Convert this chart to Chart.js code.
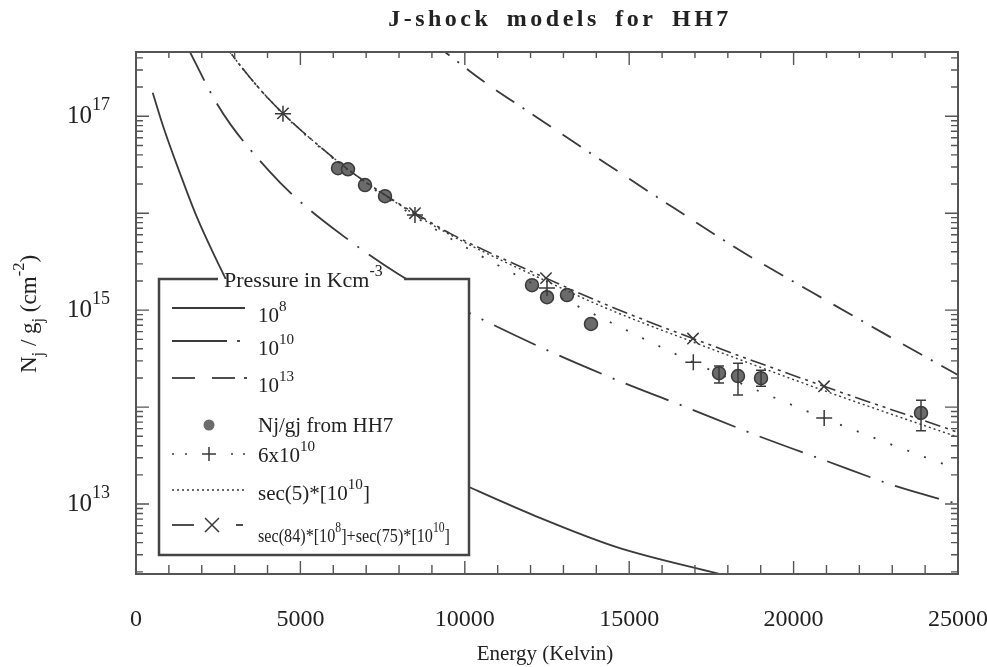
<!DOCTYPE html>
<html>
<head>
<meta charset="utf-8">
<title>J-shock models for HH7</title>
<script src="https://cdn.jsdelivr.net/npm/chart.js@4.4.1/dist/chart.umd.min.js"></script>
<style>
	html, body { margin: 0; padding: 0; background: #fff; }
</style>
</head>
<body>
<canvas id="chart" width="987" height="667"></canvas>
<script>
// ================ Data ================
// pressure 10^8 Kcm-3, solid
const energy8 = [508, 830, 1338, 1846, 2403, 3500, 5000, 6500, 8000, 10128, 12083, 14620, 17862, 18600];
const column8 = [1.75e17, 7.8e16, 2.58e16, 9.2e15, 3.55e15, 6.6e14, 1.41e14, 6.0e13, 3.2e13, 1.5e13, 7.7e12, 3.6e12, 1.86e12, 1.6e12];

// pressure 10^10, long dash + dot
const energy10 = [1450, 1642, 2372, 2889, 4045, 4805, 5991, 7938, 10158, 12500, 14629, 16788, 18887, 21016, 23114, 25000];
const column10 = [6.2e17, 4.6e17, 1.52e17, 8.1e16, 2.73e16, 1.5e16, 7.0e15, 2.4e15, 9.3e14, 3.87e14, 1.9e14, 9.8e13, 5.1e13, 2.77e13, 1.53e13, 1.0e13];

// pressure 10^13, dashes
const energy13 = [9000, 9398, 10523, 12105, 14234, 16363, 18461, 20560, 22689, 25000];
const column13 = [5.8e17, 4.6e17, 2.35e17, 1.02e17, 3.36e16, 1.13e16, 3.96e15, 1.53e15, 5.9e14, 2.14e14];

// 6x10^10, sparse dots + crosses
const energy6 = [2600, 2859, 3710, 4470, 5353, 6500, 7968, 9641, 11740, 13869, 16940, 20925, 24483, 25000];
const column6 = [6.2e17, 4.6e17, 2.0e17, 1.06e17, 5.6e16, 2.7e16, 1.2e16, 5.3e15, 2.14e15, 9.3e14, 2.91e14, 7.7e13, 2.65e13, 2.3e13];
const plusEnergy = [4470, 8485, 12500, 16950, 20930];
const plusColumn = [1.06e17, 9.6e15, 1.69e15, 2.9e14, 7.7e13];

// sec(5)*[10^10], fine dots
const energy5 = [2600, 2859, 3710, 4470, 5353, 6500, 7968, 9550, 12470, 14325, 16940, 20925, 25000];
const column5 = [6.2e17, 4.6e17, 2.0e17, 1.07e17, 5.7e16, 2.75e16, 1.25e16, 6.0e15, 2.0e15, 1.04e15, 4.7e14, 1.48e14, 4.9e13];

// sec(84)*[10^8]+sec(75)*[10^10], dash-dot + X
const energyComb = [2600, 2859, 3710, 4470, 5353, 6500, 7968, 8485, 9550, 12470, 14325, 16940, 20925, 25000];
const columnComb = [6.2e17, 4.6e17, 2.0e17, 1.07e17, 5.7e16, 2.75e16, 1.27e16, 1.0e16, 6.2e15, 2.14e15, 1.13e15, 5.1e14, 1.64e14, 5.5e13];
const crossEnergy = [4470, 8485, 12470, 16940, 20925];
const crossColumn = [1.07e17, 1.0e16, 2.14e15, 5.1e14, 1.64e14];

// Nj/gj from HH7
const obsEnergy = [6144, 6448, 6965, 7573, 12044, 12500, 13108, 13838, 17731, 18309, 19009, 23875];
const obsColumn = [2.91e16, 2.84e16, 1.95e16, 1.5e16, 1.81e15, 1.36e15, 1.43e15, 7.2e14, 2.24e14, 2.09e14, 1.99e14, 8.7e13];
const obsLow = [null, null, null, null, null, null, null, null, 1.77e14, 1.33e14, 1.64e14, 5.7e13];
const obsHigh = [null, null, null, null, null, null, null, null, 2.65e14, 2.84e14, 2.4e14, 1.18e14];

// axes
const xTickLabels = ["0", "5000", "10000", "15000", "20000", "25000"];
const xTickValues = [0, 5000, 10000, 15000, 20000, 25000];
const yLabelExponents = [13, 15, 17];
const Y_MIN = 1.9e12;
const Y_MAX = 4.6e17;

const SERIF = '"Liberation Serif", "DejaVu Serif", serif';
const INK = "#3a3a3a";

// dash patterns
const DASH_10 = [46, 12, 2, 12];
const DASH_13 = [22, 10, 2, 10, 22, 14];
const DASH_6 = [2, 16];
const DASH_5 = [2, 3];
const DASH_COMB = [16, 5, 3, 5, 3, 5];

function pts(xs, ys) {
	return xs.map((x, i) => ({ x: x, y: ys[i] }));
}

function curve(data, dash, width) {
	return {
		data: data,
		borderColor: INK,
		borderWidth: width,
		borderDash: dash,
		pointRadius: 0,
		fill: false,
		cubicInterpolationMode: "monotone",
	};
}

function markers(data, style, radius, fillCol) {
	return {
		data: data,
		showLine: false,
		pointStyle: style,
		pointRadius: radius,
		pointBorderWidth: 1.5,
		borderColor: INK,
		backgroundColor: fillCol || INK,
	};
}

// draws text parts: [text, shift] shift 1 = superscript, -1 = subscript
function richText(ctx, parts, x, y, size, draw) {
	let cx = x;
	for (const [t, s] of parts) {
		const fs = s ? size * 0.72 : size;
		ctx.font = `${fs}px ${SERIF}`;
		const dy = s === 1 ? -size * 0.52 : s === -1 ? size * 0.3 : 0;
		if (draw !== false) ctx.fillText(t, cx, y + dy);
		cx += ctx.measureText(t).width;
	}
	return cx - x;
}

function sample(ctx, x0, x1, y, dash) {
	ctx.save();
	ctx.setLineDash(dash);
	ctx.beginPath();
	ctx.moveTo(x0, y);
	ctx.lineTo(x1, y);
	ctx.stroke();
	ctx.restore();
}

function plusMark(ctx, x, y, r) {
	ctx.beginPath();
	ctx.moveTo(x - r, y); ctx.lineTo(x + r, y);
	ctx.moveTo(x, y - r); ctx.lineTo(x, y + r);
	ctx.stroke();
}

function crossMark(ctx, x, y, r) {
	ctx.beginPath();
	ctx.moveTo(x - r, y - r); ctx.lineTo(x + r, y + r);
	ctx.moveTo(x - r, y + r); ctx.lineTo(x + r, y - r);
	ctx.stroke();
}

// ================ decorations plugin ================
const decor = {
	id: "decor",
	beforeDraw(chart) {
		const ctx = chart.ctx;
		ctx.save();
		ctx.fillStyle = "#fff";
		ctx.fillRect(0, 0, chart.width, chart.height);
		ctx.restore();
	},
	afterDatasetsDraw(chart) {
		const ctx = chart.ctx;
		const xs = chart.scales.x;
		const ys = chart.scales.y;
		const a = chart.chartArea;
		ctx.save();

		// error bars
		ctx.strokeStyle = INK;
		ctx.lineWidth = 1.5;
		obsEnergy.forEach((e, i) => {
			if (obsLow[i] == null) return;
			const px = xs.getPixelForValue(e);
			const lo = ys.getPixelForValue(obsLow[i]);
			const hi = ys.getPixelForValue(obsHigh[i]);
			ctx.beginPath();
			ctx.moveTo(px, lo); ctx.lineTo(px, hi);
			ctx.moveTo(px - 5, lo); ctx.lineTo(px + 5, lo);
			ctx.moveTo(px - 5, hi); ctx.lineTo(px + 5, hi);
			ctx.stroke();
		});

		// ---- legend box ----
		const L = 159, T = 279, R = 469, B = 555;
		ctx.fillStyle = "#fff";
		ctx.fillRect(L, T, R - L, B - T);
		ctx.strokeStyle = "#444";
		ctx.lineWidth = 2.5;
		ctx.beginPath();
		ctx.moveTo(218, T); ctx.lineTo(L, T); ctx.lineTo(L, B);
		ctx.lineTo(R, B); ctx.lineTo(R, T); ctx.lineTo(404, T);
		ctx.stroke();

		ctx.fillStyle = "#222";
		ctx.textBaseline = "alphabetic";
		ctx.textAlign = "left";
		richText(ctx, [["Pressure in Kcm", 0], ["-3", 1]], 224, 287, 22);

		ctx.strokeStyle = INK;
		ctx.lineWidth = 1.8;
		const tx = 258;
		// 10^8
		sample(ctx, 172, 245, 308, []);
		richText(ctx, [["10", 0], ["8", 1]], tx, 322, 21);
		// 10^10
		sample(ctx, 172, 227, 341, []);
		sample(ctx, 237, 240, 341, []);
		richText(ctx, [["10", 0], ["10", 1]], tx, 355, 21);
		// 10^13
		sample(ctx, 172, 195, 378, []);
		sample(ctx, 212, 235, 378, []);
		sample(ctx, 244, 247, 378, []);
		richText(ctx, [["10", 0], ["13", 1]], tx, 392, 21);
		// observations
		ctx.fillStyle = "#6b6b6b";
		ctx.beginPath();
		ctx.arc(209, 425, 5.5, 0, Math.PI * 2);
		ctx.fill();
		ctx.fillStyle = "#222";
		richText(ctx, [["Nj/gj from HH7", 0]], tx, 432, 21);
		// 6x10^10
		ctx.lineWidth = 1.5;
		sample(ctx, 172, 174, 454, []);
		sample(ctx, 185, 187, 454, []);
		sample(ctx, 231, 233, 454, []);
		sample(ctx, 243, 245, 454, []);
		plusMark(ctx, 209, 454, 7);
		richText(ctx, [["6x10", 0], ["10", 1]], tx, 462, 21);
		// sec(5)
		sample(ctx, 172, 244, 490, DASH_5);
		richText(ctx, [["sec(5)*[10", 0], ["10", 1], ["]", 0]], tx, 500, 21);
		// combination
		ctx.lineWidth = 1.8;
		sample(ctx, 172, 194, 525, []);
		sample(ctx, 236, 243, 525, []);
		ctx.lineWidth = 1.5;
		crossMark(ctx, 212, 525, 7);
		const combParts = [["sec(84)*[10", 0], ["8", 1], ["]+sec(75)*[10", 0], ["10", 1], ["]", 0]];
		const w = richText(ctx, combParts, 0, 0, 19, false);
		ctx.save();
		ctx.translate(tx, 542);
		ctx.scale(192 / w, 1);
		richText(ctx, combParts, 0, 0, 19);
		ctx.restore();

		// ---- frame and ticks ----
		ctx.strokeStyle = "#555";
		ctx.lineWidth = 2;
		ctx.strokeRect(a.left, a.top, a.right - a.left, a.bottom - a.top);
		ctx.lineWidth = 1.4;
		ctx.beginPath();
		for (let v = 0; v <= 25000; v += 1000) {
			const px = xs.getPixelForValue(v);
			const major = v % 5000 === 0;
			ctx.moveTo(px, a.bottom); ctx.lineTo(px, a.bottom - (major ? 13 : 9));
			ctx.moveTo(px, a.top); ctx.lineTo(px, a.top + (major ? 13 : 6));
		}
		for (let k = 12; k <= 17; k++) {
			for (let m = 1; m <= 9; m++) {
				const v = m * Math.pow(10, k);
				if (v < Y_MIN || v > Y_MAX) continue;
				const py = ys.getPixelForValue(v);
				const len = m === 1 ? 13 : 7;
				ctx.moveTo(a.left, py); ctx.lineTo(a.left + len, py);
				ctx.moveTo(a.right, py); ctx.lineTo(a.right - len, py);
			}
		}
		ctx.stroke();

		// ---- tick labels ----
		ctx.fillStyle = "#222";
		ctx.textAlign = "center";
		ctx.font = `24px ${SERIF}`;
		xTickValues.forEach((v, i) => {
			ctx.fillText(xTickLabels[i], xs.getPixelForValue(v), 626);
		});
		ctx.textAlign = "left";
		yLabelExponents.forEach((k) => {
			const py = ys.getPixelForValue(Math.pow(10, k));
			richText(ctx, [["10", 0], [String(k), 1]], 67, py + 7, 25);
		});

		// ---- axis titles ----
		ctx.font = `21px ${SERIF}`;
		ctx.textAlign = "center";
		ctx.fillText("Energy (Kelvin)", 545, 660);

		const yParts = [["N", 0], ["j", -1], [" / g", 0], ["j", -1], [" (cm", 0], ["-2", 1], [")", 0]];
		ctx.textAlign = "left";
		const yw = richText(ctx, yParts, 0, 0, 23, false);
		ctx.save();
		ctx.translate(36, 314);
		ctx.rotate(-Math.PI / 2);
		richText(ctx, yParts, -yw / 2, 0, 23);
		ctx.restore();

		ctx.font = `bold 24px ${SERIF}`;
		ctx.textAlign = "center";
		ctx.letterSpacing = "3.5px";
		ctx.wordSpacing = "6px";
		ctx.fillText("J-shock models for HH7", 560, 26);
		ctx.letterSpacing = "0px";
		ctx.wordSpacing = "0px";

		ctx.restore();
	},
};

// ================ Main ================
function main() {
	const ctx = document.getElementById("chart");
	new Chart(ctx, {
		type: "line",
		data: {
			datasets: [
				curve(pts(energy8, column8), [], 1.8),
				curve(pts(energy10, column10), DASH_10, 1.8),
				curve(pts(energy13, column13), DASH_13, 1.8),
				curve(pts(energy6, column6), DASH_6, 1.8),
				curve(pts(energy5, column5), DASH_5, 1.4),
				curve(pts(energyComb, columnComb), DASH_COMB, 1.6),
				markers(pts(plusEnergy, plusColumn), "cross", 8),
				markers(pts(crossEnergy, crossColumn), "crossRot", 8),
				markers(pts(obsEnergy, obsColumn), "circle", 6.5, "#6b6b6b"),
			],
		},
		options: {
			responsive: false,
			animation: false,
			devicePixelRatio: 1,
			layout: { padding: { left: 136, top: 52, right: 29, bottom: 93 } },
			plugins: {
				legend: { display: false },
				tooltip: { enabled: false },
				title: { display: false },
			},
			scales: {
				x: { type: "linear", min: 0, max: 25000, display: false },
				y: { type: "logarithmic", min: Y_MIN, max: Y_MAX, display: false },
			},
		},
		plugins: [decor],
	});
}

main();
</script>
</body>
</html>
